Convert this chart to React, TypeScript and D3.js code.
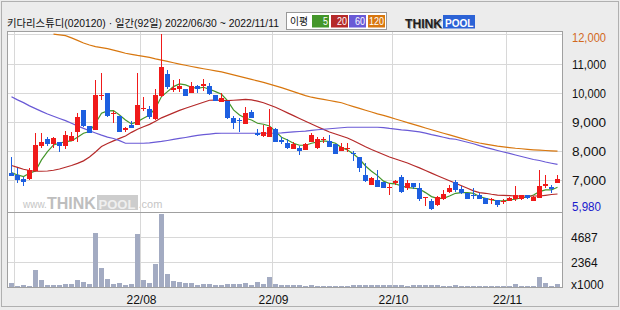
import React, { useEffect } from 'react';
import * as d3 from 'd3';

// ---- data ----
const openP = [7253,7173,7036,7024,7311,8169,8410,8250,8307,8181,8353,8662,9406,8856,8719,9898,10001,9257,9200,8719,8891,8891,9440,9440,9085,9898,10643,10093,10127,10116,10001,10230,10230,10230,9921,9692,9715,9143,9062,8925,9337,8604,8513,8490,8754,8375,8283,8066,8112,8043,8318,8089,8363,8341,8249,7997,8054,7940,7802,7173,6829,7001,6944,6715,6886,7093,6738,6886,6715,6371,6291,6142,6337,6600,6921,6692,6566,6497,6486,6394,6303,6314,6245,6280,6337,6348,6486,6291,6371,6806,6772,6909];
const highP = [7803,7402,7116,7414,8627,8627,8479,8490,8307,8685,8662,9314,9406,8856,10436,10688,10001,9383,9200,8833,9040,10665,9864,9543,10116,12017,10780,10436,10459,10116,10379,10265,10471,10345,9921,9978,9715,9200,9120,9498,9406,8742,8891,9429,8788,8489,8409,8318,8180,8272,8627,8467,8467,8547,8249,8260,8260,7997,7802,7596,7116,7344,6944,6886,7001,7173,7001,6886,6886,6430,6337,6451,6657,6829,7001,6795,6566,6715,6543,6394,6371,6314,6337,6429,6795,6486,6486,6463,7344,7173,6829,7173];
const lowP = [7140,6887,6795,6990,7300,8089,8158,8089,7975,8055,8342,8318,8833,8604,8700,9749,9177,8971,8650,8650,8776,8891,9372,9085,9062,9860,10116,10024,10024,9898,9978,9978,10070,9921,9715,9692,9085,8742,8662,8925,9120,8513,8467,8467,8318,8226,8077,8066,7860,8043,8318,8066,8260,8146,7906,7997,7974,7654,7287,6944,6829,6749,6738,6486,6829,6566,6657,6680,6291,6108,5980,6120,6314,6566,6600,6520,6360,6348,6348,6188,6165,6085,6177,6280,6291,6314,6337,6291,6371,6715,6566,6909];
const closeP = [7150,7002,6933,7345,8204,8295,8250,8433,8181,8536,8513,9154,8856,8627,9921,9921,9200,9314,8662,8776,8799,9578,9486,9154,9921,10872,10207,10162,10230,9898,10230,10127,10288,9956,9715,9830,9120,8948,9017,9291,9143,8536,8650,8811,8318,8306,8112,8238,7997,8226,8547,8409,8409,8146,7906,8146,8100,7894,7402,6978,7081,6749,6738,6761,6967,6600,6886,6749,6337,6417,6020,6406,6520,6715,6657,6543,6360,6451,6348,6188,6348,6142,6291,6394,6486,6486,6394,6417,6795,6863,6680,7035];
const volume = [440,125,220,156,1625,690,220,220,220,313,313,690,532,313,5100,1815,783,313,407,250,313,5010,690,407,2190,6870,1250,595,500,407,407,220,313,313,220,220,313,313,313,407,220,500,313,970,313,220,220,220,220,140,220,140,140,140,140,140,140,200,200,200,200,200,200,200,200,200,140,200,200,200,200,200,140,140,200,140,140,140,140,140,140,140,140,140,313,140,140,140,970,407,140,313];
const ma5 = [7253,7173,7116,7231,7311,7689,7975,8204,8261,8318,8341,8467,8604,8662,8948,9291,9372,9383,9234,9062,8925,9005,9120,9234,9463,9864,10036,10208,10299,10265,10185,10150,10185,10116,10036,9944,9727,9406,9234,9120,9062,8948,8914,8856,8670,8467,8375,8261,8192,8192,8261,8306,8341,8318,8261,8112,8032,7894,7720,7480,7300,7150,6960,6880,6864,6795,6740,6720,6690,6566,6429,6371,6371,6451,6543,6566,6566,6543,6429,6371,6314,6280,6280,6314,6337,6394,6406,6486,6600,6657,6657,6749];
const ma20 = [7498,7433,7368,7326,7299,7299,7309,7333,7378,7436,7498,7570,7656,7790,7962,8148,8251,8343,8429,8512,8636,8745,8828,8910,9020,9134,9220,9306,9391,9464,9532,9601,9670,9738,9742,9732,9725,9738,9752,9769,9749,9708,9653,9574,9498,9402,9306,9209,9113,9017,8921,8828,8739,8649,8581,8512,8443,8347,8244,8141,8045,7959,7873,7790,7722,7653,7584,7498,7416,7326,7234,7144,7058,6973,6887,6801,6715,6625,6564,6543,6509,6481,6471,6461,6450,6450,6450,6450,6450,6474,6502,6519];
const ma60 = [9859,9752,9656,9546,9450,9357,9268,9189,9113,9038,8948,8859,8773,8690,8615,8539,8471,8426,8350,8261,8261,8261,8261,8275,8299,8323,8357,8392,8426,8460,8495,8529,8557,8577,8598,8605,8605,8605,8605,8605,8605,8605,8605,8605,8605,8615,8632,8649,8666,8680,8704,8725,8742,8759,8776,8794,8811,8811,8811,8811,8811,8811,8797,8770,8749,8721,8701,8677,8650,8610,8560,8515,8467,8423,8398,8347,8295,8244,8179,8120,8069,8014,7962,7911,7859,7807,7756,7704,7670,7618,7574,7533];
const ma120 = [null,null,null,null,null,null,null,12010,11985,11958,11880,11794,11703,11636,11580,11547,11509,11459,11407,11353,11315,11277,11247,11210,11160,11116,11071,11027,10982,10940,10899,10858,10820,10785,10750,10712,10660,10609,10557,10506,10455,10404,10350,10291,10233,10173,10104,10034,9965,9896,9843,9805,9767,9729,9690,9652,9583,9521,9459,9396,9334,9270,9220,9158,9096,9034,8972,8911,8849,8787,8725,8664,8606,8547,8488,8430,8372,8314,8270,8232,8194,8160,8136,8113,8089,8072,8054,8037,8024,8013,8003,7993];

const priceTicks = [12000, 11000, 10000, 9000, 8000, 7000];
const volumeTicks = [2364, 4687];
const monthTickIndex = [1, 22, 44, 64, 83];
const monthTickLabels = ['', '22/08', '22/09', '22/10', '22/11'];
const maPeriods = ['5', '20', '60', '120'];
const maColors = ['#44962a', '#b52a2a', '#6a5ad6', '#d8770f'];
const titleText = '키다리스튜디(020120) · 일간(92일) 2022/06/30 ~ 2022/11/11';

const RED = '#f01a1a';
const BLUE = '#1d5fe0';
const VOL = '#a3abc2';
const GRID = '#d8d8d8';
const BORDER = '#a0a0a0';

export default function App() {
  useEffect(() => {
    document.body.style.margin = '0';
  }, []);

  const idx = d3.range(closeP.length);
  const x = d3.scaleBand<number>().domain(idx).range([8.5, 560.5]);
  const cx = (i: number) => (x(i) as number) + x.bandwidth() / 2;
  const y = d3.scaleLinear().domain([5900, 12100]).range([212, 31.5]);
  const yv = d3.scaleLinear().domain([0, 7030]).range([287.5, 212.5]);

  const left = 7.5, right = 562.5, top = 31.5, mid = 212.5, bottom = 287.5;

  const mkLine = (arr: (number | null)[]) =>
    d3.line<number | null>()
      .defined((d) => d != null)
      .x((_, i) => cx(i))
      .y((d) => y(d as number))(arr) || '';

  const maSeries = [ma5, ma20, ma60, ma120];
  const minLow = d3.min(lowP) as number;
  const labelFont = '"Liberation Sans", Arial, sans-serif';
  const titleFont = '"Liberation Sans", "Noto Sans CJK KR", sans-serif';
  const legendBoxX = [312, 331, 349, 368];
  const legendTextW = [5, 10, 10, 15];

  return (
    <>
      <style>{'body{margin:0}'}</style>
      <svg width={620} height={310} style={{ display: 'block' }}>
        <rect x={0} y={0} width={620} height={310} fill="#ececec" />
        <rect x={1.5} y={1.5} width={617} height={305} fill="none" stroke="#b0b0b0" />

        {/* title */}
        <text x={7} y={27} fontFamily={titleFont} fontSize={10.5} fill="#111"
          textLength={272} lengthAdjust="spacingAndGlyphs">{titleText}</text>

        {/* legend */}
        <rect x={286.5} y={12.5} width={100} height={17} fill="#fff" stroke="#999" />
        <text x={290} y={25} fontFamily='"Noto Sans CJK KR", sans-serif' fontSize={10.5} fill="#111"
          textLength={18} lengthAdjust="spacingAndGlyphs">이평</text>
        {maPeriods.map((p, k) => {
          const bx = legendBoxX[k];
          return (
            <g key={p}>
              <rect x={bx} y={15} width={17} height={12.5} fill={maColors[k]} />
              <text x={bx + 16 - legendTextW[k]} y={25} fontFamily={labelFont} fontSize={10} fill="#fff"
                textLength={legendTextW[k]} lengthAdjust="spacingAndGlyphs">{p}</text>
            </g>
          );
        })}

        {/* logo */}
        <rect x={443} y={15} width={32} height={13.5} fill="#2c63d6" />
        <text y={27.5} fontFamily={labelFont} fontWeight={700}>
          <tspan x={405} fontSize={12.5} fill="#1e1e1e" textLength={37} lengthAdjust="spacingAndGlyphs"
            style={{ textShadow: '1px 1px 0 #999' }}>THINK</tspan>
          <tspan x={445} dy={-0.5} fontSize={11.5} fill="#fff" textLength={28.5} lengthAdjust="spacingAndGlyphs">POOL</tspan>
        </text>

        {/* plot background */}
        <rect x={left} y={top} width={right - left} height={bottom - top} fill="#fff" />

        {/* watermark */}
        <g opacity={0.9}>
          <rect x={97} y={195} width={41} height={15} fill="#c8c8c8" />
          <text y={209} fontFamily={labelFont} fill="#c0c0c0">
            <tspan x={23} fontSize={10} dy={-1}>www.</tspan>
            <tspan x={47} dy={1} fontSize={16} fontWeight={700} fill="#b8b8b8">THINK</tspan>
            <tspan x={98.5} fontSize={13} fontWeight={700} fill="#eeeeee">POOL</tspan>
            <tspan x={138.5} fontSize={11} dy={-1}>.com</tspan>
          </text>
        </g>

        {/* grid */}
        <g stroke={GRID} strokeWidth={1.3} shapeRendering="crispEdges">
          {priceTicks.map((t) => (
            <line key={t} x1={left} x2={right} y1={Math.round(y(t)) + 0.5} y2={Math.round(y(t)) + 0.5} />
          ))}
          {volumeTicks.map((t) => (
            <line key={t} x1={left} x2={right} y1={Math.round(yv(t)) + 0.5} y2={Math.round(yv(t)) + 0.5} />
          ))}
          {monthTickIndex.map((i) => (
            <line key={i} x1={x(i) as number} x2={x(i) as number} y1={top} y2={bottom} />
          ))}
        </g>

        {/* volume */}
        <g fill={VOL} shapeRendering="crispEdges">
          {idx.map((i) => (
            <rect key={i} x={cx(i) - 2.5} width={5} y={yv(volume[i])} height={bottom - yv(volume[i])} />
          ))}
        </g>

        {/* moving averages */}
        {maSeries.map((s, k) => (
          <path key={k} d={mkLine(s)} fill="none" stroke={maColors[k]} strokeWidth={1.2} />
        ))}

        {/* candles */}
        <g shapeRendering="crispEdges">
          {idx.map((i) => {
            const o = openP[i], c = closeP[i];
            const up = c >= o;
            const col = up ? RED : BLUE;
            const yt = y(Math.max(o, c));
            const yb = y(Math.min(o, c));
            return (
              <g key={i}>
                <line x1={cx(i)} x2={cx(i)} y1={y(highP[i])} y2={y(lowP[i])} stroke={col} strokeWidth={1} />
                <rect x={cx(i) - 2.5} width={5} y={yt} height={Math.max(1.5, yb - yt)} fill={col} />
              </g>
            );
          })}
        </g>

        {/* frame */}
        <rect x={left} y={top} width={right - left} height={bottom - top} fill="none" stroke={BORDER} />
        <line x1={left} x2={right} y1={mid} y2={mid} stroke={BORDER} />

        {/* price labels */}
        <g fontFamily={labelFont} fontSize={12}>
          {priceTicks.map((t, k) => (
            <text key={t} x={572} y={Math.max(y(t) + 1, 38)} dy="0.35em" fill={k === 0 ? '#d2691e' : '#111'}
              textLength={34} lengthAdjust="spacingAndGlyphs">{d3.format(',')(t)}</text>
          ))}
          <text x={572} y={Math.min(y(minLow), 207)} dy="0.35em" fill="#1a1acc"
            textLength={29} lengthAdjust="spacingAndGlyphs">{d3.format(',')(minLow)}</text>
          {volumeTicks.map((t) => (
            <text key={t} x={571} y={yv(t) + 0.5} dy="0.35em" fill="#111">{t}</text>
          ))}
          <text x={571} y={285} dy="0.35em" fill="#111">x1000</text>
        </g>

        {/* month labels */}
        <g fontFamily={labelFont} fontSize={12} fill="#111">
          {monthTickIndex.map((i, k) => monthTickLabels[k] ? (
            <text key={i} x={(x(i) as number) + 1} y={300} dy="0.35em" textAnchor="middle">{monthTickLabels[k]}</text>
          ) : null)}
        </g>
      </svg>
    </>
  );
}
